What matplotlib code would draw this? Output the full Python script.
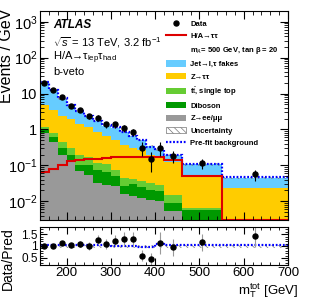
import numpy as np
import matplotlib
matplotlib.use("Agg")
import matplotlib.pyplot as plt
from matplotlib.patches import Patch
from matplotlib.lines import Line2D
from matplotlib.ticker import FixedLocator, FixedFormatter, MultipleLocator, LogLocator, NullFormatter

plt.rcParams['font.family'] = ['Liberation Sans', 'DejaVu Sans']
plt.rcParams['mathtext.fontset'] = 'custom'
plt.rcParams['mathtext.rm'] = 'Liberation Sans'
plt.rcParams['mathtext.it'] = 'Liberation Sans:italic'
plt.rcParams['mathtext.bf'] = 'Liberation Sans:bold'
plt.rcParams['hatch.linewidth'] = 0.5

# ---------------- data ----------------
edges = [140, 160, 180, 200, 220, 240, 260, 280, 300, 320, 340, 360, 380, 400, 420, 460, 550, 700]
centers = [150, 170, 190, 210, 230, 250, 270, 290, 310, 330, 350, 370, 390, 410, 440, 505, 625]

data = [19.8, 12.4, 8.1, 4.6, 3.4, 2.3, 2.15, 1.38, 1.38, 1.07, 0.84, 0.31, 0.155, 0.31, 0.18, 0.117, 0.056]
data_err = [0.99, 0.79, 0.64, 0.48, 0.41, 0.34, 0.33, 0.26, 0.26, 0.23, 0.20, 0.125, 0.088, 0.125, 0.067, 0.036, 0.019]

zll = [0.8, 0.45, 0.19, 0.13, 0.07, 0.055, 0.032, 0.028, 0.026, 0.016, 0.014, 0.012, 0.011, 0.010, 0.0052, 0.0015, 0.0005]
diboson = [0.15, 0.15, 0.11, 0.07, 0.03, 0.045, 0.042, 0.037, 0.024, 0.010, 0.016, 0.013, 0.009, 0.009, 0.0037, 0.0042, 0.0005]
top = [0.2, 0.2, 0.15, 0.1, 0.1, 0.07, 0.046, 0.045, 0.025, 0.019, 0.012, 0.011, 0.012, 0.010, 0.0061, 0.0006, 0.0005]
ztautau = [3.55, 2.6, 1.85, 1.6, 1.25, 1.03, 0.74, 0.53, 0.425, 0.325, 0.258, 0.234, 0.158, 0.137, 0.112, 0.046, 0.0215]
fakes = [15.1, 9.0, 4.9, 2.6, 1.65, 1.1, 0.84, 0.63, 0.63, 0.46, 0.35, 0.25, 0.15, 0.104, 0.063, 0.055, 0.021]

signal = [0.065, 0.08, 0.1, 0.13, 0.14, 0.15, 0.15, 0.16, 0.17, 0.17, 0.17, 0.17, 0.17, 0.17, 0.14, 0.049, 0.003]

prefit_ratio = [1.04, 1.04, 1.04, 1.04, 1.04, 1.03, 1.03, 1.03, 1.02, 1.02, 1.0, 0.97, 0.97, 1.08, 1.03, 1.04, 1.06]
unc_rel = [0.06, 0.06, 0.06, 0.06, 0.06, 0.06, 0.06, 0.06, 0.06, 0.06, 0.06, 0.06, 0.06, 0.07, 0.07, 0.08, 0.08]

ratio = [1.0, 1.0, 1.13, 1.03, 1.09, 1.0, 1.26, 1.09, 1.22, 1.29, 1.29, 0.6, 0.46, 1.13, 0.95, 1.16, 1.43]
ratio_err = [0.05, 0.06, 0.09, 0.11, 0.13, 0.15, 0.19, 0.2, 0.23, 0.28, 0.31, 0.24, 0.26, 0.46, 0.35, 0.36, 0.47]
band_lo = [0.9] * 17
band_hi = [1.04] * 17

# -------------- colours ---------------
c_fakes = '#66ccff'
c_ztt = '#ffcc00'
c_top = '#66cc33'
c_dib = '#009900'
c_zll = '#999999'

W, H = 312, 299
fig = plt.figure(figsize=(W / 100, H / 100), dpi=100)

def fx(px):
    return px / W

def fy(py):
    return 1 - py / H

ax = fig.add_axes([fx(40), fy(220), fx(288) - fx(40), fy(11) - fy(220)])
axr = fig.add_axes([fx(40), fy(265), fx(288) - fx(40), fy(227) - fy(265)])

e = np.array(edges, float)
comps = [(zll, c_zll), (diboson, c_dib), (top, c_top), (ztautau, c_ztt), (fakes, c_fakes)]
base = np.full(len(centers), 1e-6)
for vals, col in comps:
    topv = base + np.array(vals)
    ax.stairs(topv, e, baseline=base.copy(), fill=True, color=col, lw=0)
    base = topv
total = base

# uncertainty hatch
u = np.array(unc_rel)
ax.stairs(total * (1 + u), e, baseline=total * (1 - u), fill=True, facecolor='none',
          edgecolor='#777777', hatch='\\\\\\\\\\', lw=0)
# prefit
prefit = total * np.array(prefit_ratio)
ax.stairs(prefit, e, baseline=None, color='#0000ff', lw=1.6, ls=(0, (0.8, 0.8)))
# signal
ax.stairs(signal, e, baseline=None, color='#dd0000', lw=1.5)
# data
ax.errorbar(centers, data, yerr=data_err, fmt='o', color='black', ms=3.6,
            elinewidth=0.8, capsize=0)

ax.set_yscale('log')
ax.set_xlim(140, 700)
ax.set_ylim(3e-3, 2e3)
ax.yaxis.set_major_locator(FixedLocator([1e-2, 1e-1, 1, 10, 1e2, 1e3]))
ax.yaxis.set_major_formatter(FixedFormatter([r'$10^{-2}$', r'$10^{-1}$', '1', '10', r'$10^{2}$', r'$10^{3}$']))
ax.yaxis.set_minor_locator(LogLocator(base=10, subs=np.arange(2, 10), numticks=20))
ax.yaxis.set_minor_formatter(NullFormatter())
ax.xaxis.set_major_locator(MultipleLocator(100))
ax.xaxis.set_minor_locator(MultipleLocator(20))
ax.tick_params(axis='both', which='both', direction='in', top=True, right=True, labelbottom=False)
ax.tick_params(which='major', length=6, width=0.8, labelsize=10.5, pad=2)
ax.tick_params(which='minor', length=3, width=0.6)

# ratio panel
axr.stairs(np.array(band_hi), e, baseline=np.array(band_lo), fill=True, facecolor='none',
           edgecolor='#777777', hatch='\\\\\\\\\\', lw=0)
axr.stairs(prefit_ratio, e, baseline=None, color='#0000ff', lw=1.6, ls=(0, (0.8, 0.8)))
axr.errorbar(centers, ratio, yerr=ratio_err, fmt='none', ecolor='#999999',
             elinewidth=0.8, capsize=0)
axr.plot(centers, ratio, 'o', color='black', ms=3.6)
axr.set_xlim(140, 700)
axr.set_ylim(0.2, 1.8)
axr.yaxis.set_major_locator(FixedLocator([0.5, 1, 1.5]))
axr.yaxis.set_major_formatter(FixedFormatter(['0.5', '1', '1.5']))
axr.yaxis.set_minor_locator(MultipleLocator(0.1))
axr.xaxis.set_major_locator(MultipleLocator(100))
axr.xaxis.set_minor_locator(MultipleLocator(20))
axr.tick_params(axis='both', which='both', direction='in', top=True, right=True)
axr.tick_params(which='major', length=5, width=0.8, pad=1.5)
axr.tick_params(axis='x', labelsize=9.5)
axr.tick_params(axis='y', labelsize=8.5)
axr.tick_params(which='minor', length=2.5, width=0.6)

# labels
fig.text(fx(7), fy(9), 'Events / GeV', rotation=90, ha='center', va='top', fontsize=11.5)
fig.text(fx(8), fy(259), 'Data/Pred', rotation=90, ha='center', va='center', fontsize=10)
fig.text(fx(298), fy(299.5), r'm$_{\mathrm{T}}^{\mathrm{tot}}$ [GeV]', ha='right', va='bottom', fontsize=9.5)

fig.text(fx(53), fy(25), 'ATLAS', fontsize=8.5, fontweight='bold', fontstyle='italic', va='center')
fig.text(fx(53), fy(43), r'$\sqrt{s}$ = 13 TeV, 3.2 fb$^{-1}$', fontsize=8, va='center')
fig.text(fx(53), fy(58), r'H/A→τ$_{\mathrm{lep}}$τ$_{\mathrm{had}}$', fontsize=8, va='center')
fig.text(fx(53), fy(72), 'b-veto', fontsize=8, va='center')

# legend
handles = [
    Line2D([0], [0], marker='o', color='black', ms=3.6, lw=0),
    Line2D([0], [0], color='#dd0000', lw=1.5),
    Line2D([0], [0], color='none', lw=0),
    Patch(facecolor=c_fakes, edgecolor='none'),
    Patch(facecolor=c_ztt, edgecolor='none'),
    Patch(facecolor=c_top, edgecolor='none'),
    Patch(facecolor=c_dib, edgecolor='none'),
    Patch(facecolor=c_zll, edgecolor='none'),
    Patch(facecolor='white', edgecolor='#777777', hatch='\\\\\\\\\\', lw=0.5),
    Line2D([0], [0], color='#0000ff', lw=1.6, ls=(0, (0.8, 0.8))),
]
labels = ['Data', 'H/A→ττ', r'm$_{A}$= 500 GeV, tan β = 20',
          'Jet→l,τ fakes', 'Z→ττ', r't$\bar{\mathrm{t}}$, single top',
          'Diboson', 'Z→ee/μμ', 'Uncertainty', 'Pre-fit background']
leg = fig.legend(handles, labels, loc='upper left', bbox_to_anchor=(fx(166), fy(20)),
                 frameon=False, handlelength=2.6, handleheight=0.9,
                 handletextpad=0.6, labelspacing=0.6, borderpad=0, borderaxespad=0,
                 prop={'size': 5.5, 'weight': 'bold'})

fig.savefig('out.png', dpi=100)
